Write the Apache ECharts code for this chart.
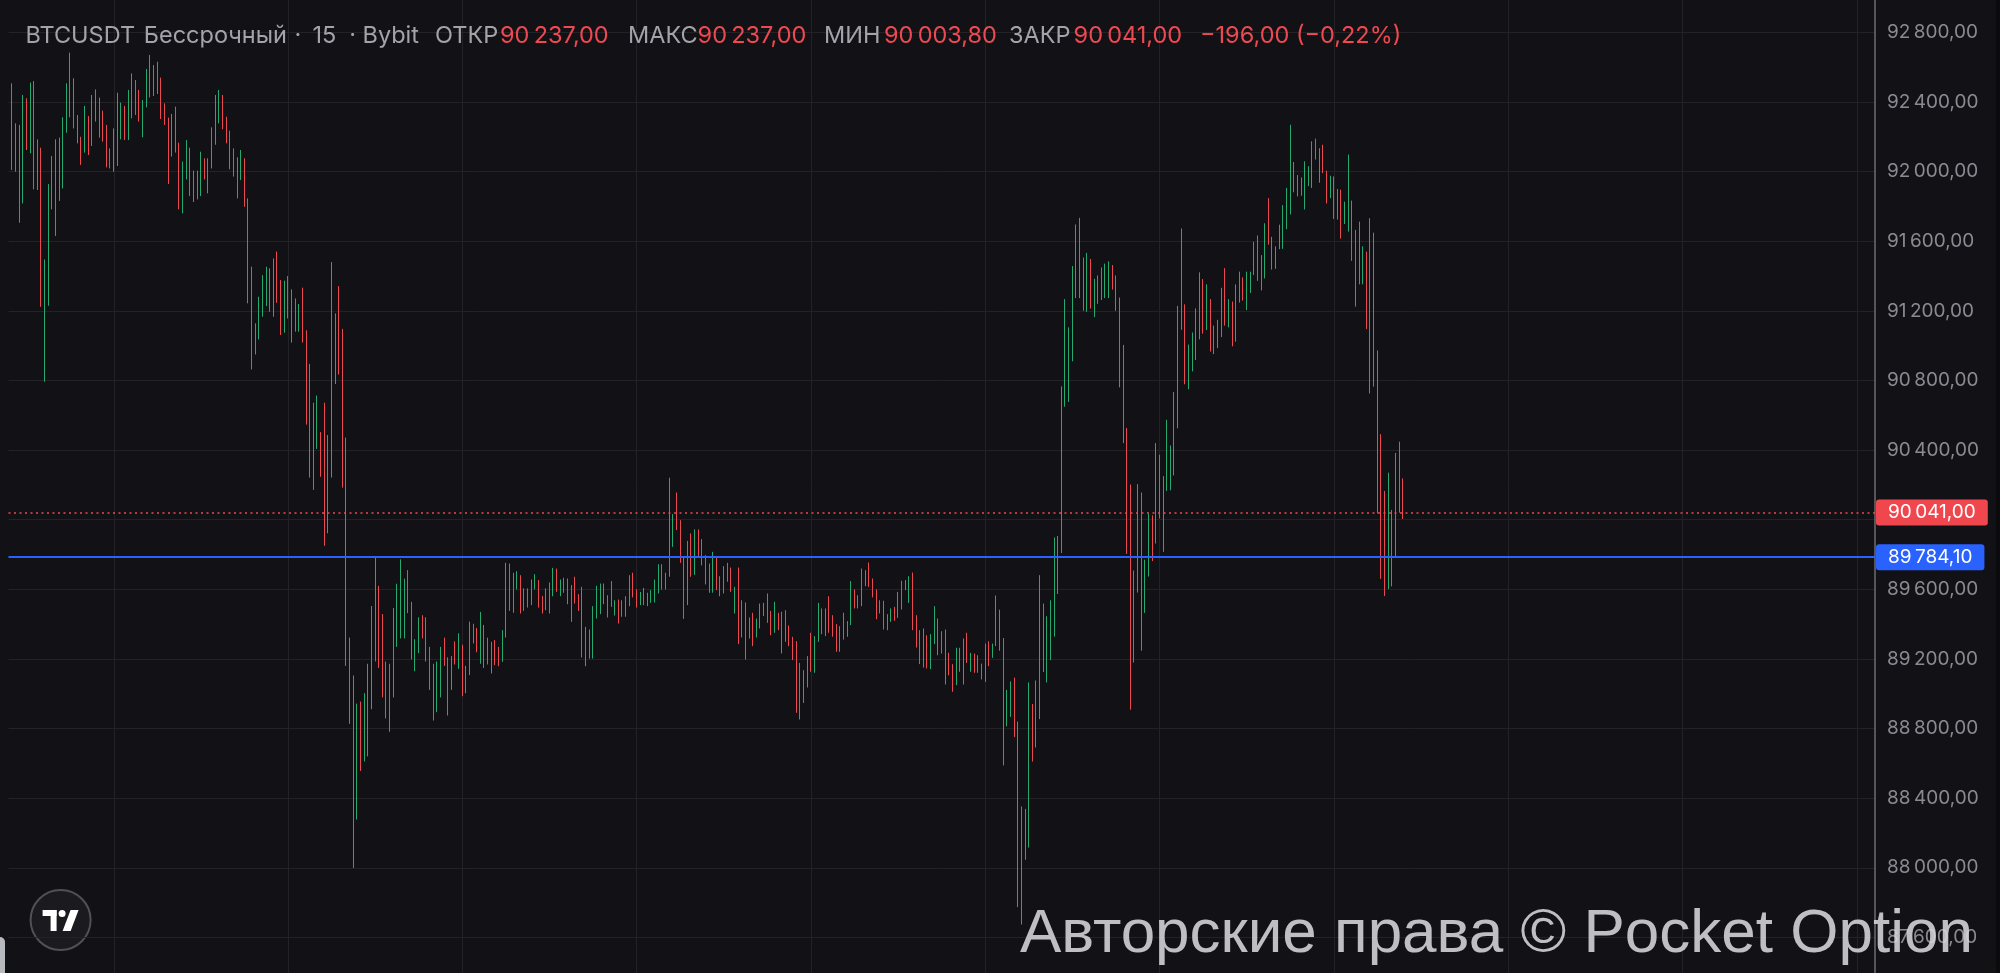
<!DOCTYPE html>
<html><head><meta charset="utf-8">
<script src="https://cdn.jsdelivr.net/npm/echarts@6/dist/echarts.min.js"></script>
<style>html,body{margin:0;padding:0;background:#121216;}#c{width:2000px;height:973px;}</style>
</head><body><div id="c"></div>
<script>
// 15-minute bars, [open, close, low, high]
const ohlc = [
[92507,92009,92009,92507],[92277,91999,91999,92277],[92268,91706,91706,92268],[91817,92440,91817,92440],[92421,92124,92124,92421],
[92105,92511,92105,92511],[92520,91898,91898,92520],[91894,92185,91894,92185],[92137,91223,91223,92137],[90792,91495,90792,91495],
[91229,91928,91229,91928],[91783,92089,91783,92089],[91630,92185,91630,92185],[92195,91831,91831,92195],[91903,92312,91903,92312],
[92223,92507,92223,92507],[92683,92312,92312,92683],[92536,92248,92248,92536],[92325,92162,92162,92325],[92200,92038,92038,92200],
[92109,92377,92109,92377],[92319,92095,92095,92319],[92147,92440,92147,92440],[92472,92287,92287,92472],[92425,92195,92195,92425],
[92350,92172,92172,92350],[92268,92024,92024,92268],[92133,92018,92018,92133],[91999,92248,91999,92248],[92032,92453,92032,92453],
[92185,92396,92185,92396],[92377,92181,92181,92377],[92181,92469,92181,92469],[92306,92564,92306,92564],[92526,92325,92325,92526],
[92469,92287,92287,92469],[92197,92411,92197,92411],[92369,92589,92369,92589],[92426,92670,92426,92670],[92612,92434,92434,92612],
[92446,92631,92446,92631],[92540,92302,92302,92540],[92392,92268,92268,92392],[92310,91928,91928,92310],[92086,92331,92086,92331],
[92373,92109,92109,92373],[92166,91783,91783,92166],[91760,92057,91760,92057],[91955,92181,91955,92181],[92137,91859,91859,92137],
[91825,92005,91825,92005],[92005,91840,91840,92005],[91859,92114,91859,92114],[92076,91955,91955,92076],[91875,92076,91875,92076],
[92018,92254,92018,92254],[92154,92440,92154,92440],[92277,92469,92277,92469],[92440,92243,92243,92440],[92315,92162,92162,92315],
[92235,92013,92013,92235],[92133,91971,91971,92133],[92082,91846,91846,92082],[91951,92124,91951,92124],[92076,91798,91798,92076],
[91846,91243,91243,91846],[91453,90863,90863,91453],[90949,91128,90949,91128],[91036,91281,91036,91281],[91166,91405,91166,91405],
[91227,91453,91227,91453],[91444,91195,91195,91444],[91166,91501,91166,91501],[91540,91246,91246,91540],[91377,91061,91061,91377],
[91074,91373,91074,91373],[91400,91156,91156,91400],[91323,91017,91017,91323],[91271,91080,91080,91271],[91080,91239,91080,91239],
[91333,91017,91017,91333],[91088,90546,90546,91088],[90895,90242,90242,90895],[90171,90672,90171,90672],[90406,90713,90406,90713],
[90503,90246,90246,90503],[90672,89850,89850,90672],[89922,90486,89922,90486],[90242,91480,90242,91480],[90779,91185,90779,91185],
[91342,90834,90834,91342],[91096,90184,90184,91096],[90471,89160,89160,90471],[89322,88827,88827,89322],[89105,87999,87999,89105],
[88277,88943,88277,88943],[88955,88556,88556,88955],[88611,89003,88611,89003],[88640,89172,88640,89172],[88911,89504,88911,89504],
[89185,89789,89185,89789],[89620,89148,89148,89620],[89458,88979,88979,89458],[89185,88858,88858,89185],[88781,89172,88781,89172],
[88979,89492,88979,89492],[89269,89632,89269,89632],[89318,89772,89318,89772],[89318,89661,89318,89661],[89710,89463,89463,89710],
[89528,89197,89197,89528],[89129,89313,89129,89313],[89233,89439,89233,89439],[89451,89318,89318,89451],[89439,89185,89185,89439],
[89269,89022,89022,89269],[89172,88846,88846,89172],[88894,89185,88894,89185],[88979,89269,88979,89269],[89322,89160,89160,89322],
[89209,88875,88875,89209],[89022,89216,89022,89216],[89301,89168,89168,89301],[89143,89347,89143,89347],[89281,88986,88986,89281],
[89003,89160,89003,89160],[89107,89414,89107,89414],[89402,89289,89289,89402],[89378,89238,89238,89378],[89172,89470,89172,89470],
[89395,89148,89148,89395],[89168,89322,89168,89322],[89298,89116,89116,89298],[89308,89164,89164,89308],[89269,89158,89158,89269],
[89183,89365,89183,89365],[89323,89752,89323,89752],[89748,89476,89476,89748],[89465,89695,89465,89695],[89599,89704,89599,89704],
[89681,89461,89461,89681],[89476,89605,89476,89605],[89605,89495,89495,89605],[89509,89656,89509,89656],[89599,89687,89599,89687],
[89653,89495,89495,89653],[89562,89461,89461,89562],[89480,89605,89480,89605],[89461,89639,89461,89639],[89560,89723,89560,89723],
[89719,89585,89585,89719],[89560,89656,89560,89656],[89666,89580,89580,89666],[89662,89514,89514,89662],[89413,89624,89413,89624],
[89672,89518,89518,89672],[89572,89476,89476,89572],[89614,89208,89208,89614],[89158,89384,89158,89384],[89369,89202,89202,89369],
[89202,89503,89202,89503],[89432,89620,89432,89620],[89457,89633,89457,89633],[89633,89514,89514,89633],[89438,89566,89438,89566],
[89647,89499,89499,89647],[89449,89537,89449,89537],[89541,89403,89403,89541],[89537,89442,89442,89537],[89442,89560,89442,89560],
[89503,89681,89503,89681],[89695,89553,89553,89695],[89599,89495,89495,89599],[89509,89585,89509,89585],[89608,89509,89509,89608],
[89580,89503,89503,89580],[89522,89595,89522,89595],[89524,89656,89524,89656],[89576,89744,89576,89744],[89744,89599,89599,89744],
[89599,89695,89599,89695],[89672,90241,89672,90241],[89844,90032,89844,90032],[90156,89940,89940,90156],[89997,89752,89752,89997],
[89787,89430,89430,89787],[89509,89878,89509,89878],[89921,89672,89672,89921],[89683,89944,89683,89944],[89944,89783,89783,89944],
[89888,89737,89737,89888],[89796,89628,89628,89796],[89748,89580,89580,89748],[89580,89815,89580,89815],[89790,89595,89595,89790],
[89560,89675,89560,89675],[89576,89733,89576,89733],[89752,89643,89643,89752],[89725,89585,89585,89725],[89461,89614,89461,89614],
[89725,89285,89285,89725],[89323,89537,89323,89537],[89524,89196,89196,89524],[89438,89317,89317,89438],[89465,89273,89273,89465],
[89323,89432,89323,89432],[89375,89518,89375,89518],[89446,89522,89446,89522],[89576,89407,89407,89576],[89476,89336,89336,89476],
[89350,89528,89350,89528],[89465,89365,89365,89465],[89231,89471,89231,89471],[89480,89298,89298,89480],[89392,89273,89273,89392],
[89327,89193,89193,89327],[89302,88890,88890,89302],[89177,88852,88852,89177],[88947,89135,88947,89135],[89036,89216,89036,89216],
[89350,89126,89126,89350],[89120,89331,89120,89331],[89298,89522,89298,89522],[89490,89342,89342,89490],[89331,89490,89331,89490],
[89560,89350,89350,89560],[89451,89327,89327,89451],[89400,89241,89241,89400],[89241,89388,89241,89388],[89311,89465,89311,89465],
[89327,89417,89327,89417],[89394,89647,89394,89647],[89599,89490,89490,89599],[89566,89490,89490,89566],[89503,89719,89503,89719],
[89618,89710,89618,89710],[89754,89614,89614,89754],[89662,89553,89553,89662],[89599,89428,89428,89599],[89537,89461,89461,89537],
[89534,89369,89369,89534],[89457,89365,89365,89457],[89413,89490,89413,89490],[89499,89419,89419,89499],[89436,89585,89436,89585],
[89484,89649,89484,89649],[89595,89653,89595,89653],[89522,89675,89522,89675],[89696,89365,89365,89696],[89451,89265,89265,89451],
[89365,89170,89170,89365],[89150,89375,89150,89375],[89336,89145,89145,89336],[89141,89342,89141,89342],[89285,89503,89285,89503],
[89432,89221,89221,89432],[89231,89359,89231,89359],[89369,89053,89053,89369],[89235,89106,89106,89235],[89170,89011,89011,89170],
[89049,89264,89049,89264],[89264,89126,89126,89264],[89053,89317,89053,89317],[89350,89177,89177,89350],[89126,89235,89126,89235],
[89231,89120,89120,89231],[89120,89221,89120,89221],[89173,89082,89082,89173],[89068,89288,89068,89288],[89301,89158,89158,89301],
[89206,89288,89206,89288],[89274,89564,89274,89564],[89483,89247,89247,89483],[89320,88588,88588,89320],[88813,89022,88813,89022],
[88867,89071,88867,89071],[89092,88751,88751,89092],[88840,87774,87774,88840],[87674,88352,87674,88352],[88338,88046,88046,88338],
[88116,89065,88116,89065],[88941,88610,88610,88941],[88691,89076,88691,89076],[88854,89681,88854,89681],[89518,89125,89125,89518],
[89065,89445,89065,89445],[89193,89537,89193,89537],[89328,89898,89328,89898],[89906,89573,89573,89906],[89808,90766,89808,90766],
[90649,91267,90649,91267],[90676,91105,90676,91105],[90910,91457,90910,91457],[91273,91696,91273,91696],[91734,91273,91273,91734],
[91506,91200,91200,91506],[91194,91533,91194,91533],[91498,91213,91213,91498],[91164,91384,91164,91384],[91240,91403,91240,91403],
[91449,91262,91262,91449],[91273,91471,91273,91471],[91273,91484,91273,91484],[91463,91322,91322,91463],[91403,91200,91200,91403],
[91276,90760,90760,91276],[91004,90440,90440,91004],[90527,89803,89803,90527],[90202,88908,88908,90202],[89179,89708,89179,89708],
[89581,90204,89581,90204],[90156,89247,89247,90156],[89464,89770,89464,89770],[89673,90034,89673,90034],[90025,89762,89762,90025],
[89863,90440,89863,90440],[90373,90007,90007,90373],[89815,90250,89815,90250],[90165,90574,90165,90574],[90169,90426,90169,90426],
[90254,90733,90254,90733],[90525,91228,90525,91228],[91091,91673,91091,91673],[91237,90778,90778,91237],[90749,91006,90749,91006],
[90852,91075,90852,91075],[90917,91214,90917,91214],[91036,91421,91036,91421],[91382,91069,91069,91382],[91089,91352,91089,91352],
[91267,90966,90966,91267],[90951,91115,90951,91115],[90986,91148,90986,91148],[91049,91332,91049,91332],[91445,91115,91115,91445],
[91105,91267,91105,91267],[91253,90996,90996,91253],[91022,91352,91022,91352],[91247,91425,91247,91425],[91392,91259,91259,91392],
[91204,91425,91204,91425],[91303,91425,91303,91425],[91406,91596,91406,91596],[91633,91372,91372,91633],[91520,91317,91317,91520],
[91386,91703,91386,91703],[91847,91580,91580,91847],[91625,91437,91437,91625],[91441,91570,91441,91570],[91554,91695,91554,91695],
[91556,91807,91556,91807],[91669,91906,91669,91906],[91754,92269,91754,92269],[92055,91881,91881,92055],[91857,91980,91857,91980],
[91966,91861,91861,91966],[91782,92059,91782,92059],[91916,92031,91916,92031],[91906,92174,91906,92174],[92189,92069,92069,92189],
[91936,92134,91936,92134],[92154,91991,91991,92154],[92005,91817,91817,92005],[91847,91976,91847,91976],[91972,91728,91728,91972],
[91724,91900,91724,91900],[91896,91615,91615,91896],[91699,91827,91699,91827],[91655,92098,91655,92098],[91833,91487,91487,91833],
[91224,91665,91224,91665],[91712,91352,91352,91712],[91352,91570,91352,91570],[91540,91095,91095,91540],[90725,91732,90725,91732],
[91649,90764,90764,91649],[90972,90036,90036,90972],[90491,89660,89660,90491],[90165,89561,89561,90165],[89601,90270,89601,90270],
[90056,89617,89617,90056],[89789,90383,89789,90383],[90448,90040,90040,90448],[90237,90041,90003.8,90237]
];
const levelLine = 89784.1;          // user-drawn horizontal line
const yMin = 87200, yMax = 93200, yStep = 400;
const slotCount = 515;              // time slots on the x axis (incl. empty right margin)
const gridEvery = 48;               // one vertical grid line per 12 h (48 x 15m)
const gridFirst = 29;

const UP = '#26a96f', DOWN = '#ec4850';
const RED_TXT = '#ee4850', GRAY_TXT = '#a3a3a9', AXIS_TXT = '#8a8a90', GRID = '#232327', BG = '#121216';

const fmt = v => {
  const neg = v < 0; v = Math.abs(v);
  const [ip, dp] = v.toFixed(2).split('.');
  return (neg ? '\u2212' : '') + ip.replace(/\B(?=(\d{3})+(?!\d))/g, '\u2009') + ',' + dp;
};

const last = ohlc[ohlc.length - 1];
const lastOpen = last[0], lastClose = last[1], lastLow = last[2], lastHigh = last[3];
const chg = lastClose - lastOpen;
const chgPct = (chg / lastOpen * 100);

const cats = [];
for (let i = 0; i < slotCount; i++) cats.push(String(i));
const seriesData = ['-'].concat(ohlc);

const chart = echarts.init(document.getElementById('c'), null, {renderer: 'canvas'});
const FONT = 'Inter, "Noto Sans", Roboto, sans-serif';

const hdr = [
  {x: 25.4, t: 'BTCUSDT', c: GRAY_TXT},
  {x: 143.8, t: 'Бессрочный', c: GRAY_TXT},
  {x: 298, t: '·', c: GRAY_TXT, a: 'center'},
  {x: 312.5, t: '15', c: GRAY_TXT},
  {x: 352.7, t: '·', c: GRAY_TXT, a: 'center'},
  {x: 362.5, t: 'Bybit', c: GRAY_TXT},
  {x: 435, t: 'ОТКР', c: GRAY_TXT}, {x: 500, t: fmt(lastOpen), c: RED_TXT},
  {x: 628, t: 'МАКС', c: GRAY_TXT}, {x: 697.6, t: fmt(lastHigh), c: RED_TXT},
  {x: 824, t: 'МИН', c: GRAY_TXT}, {x: 884, t: fmt(lastLow), c: RED_TXT},
  {x: 1009, t: 'ЗАКР', c: GRAY_TXT}, {x: 1073.6, t: fmt(lastClose), c: RED_TXT},
  {x: 1200, t: fmt(chg) + ' (' + (chgPct < 0 ? '\u2212' : '') + Math.abs(chgPct).toFixed(2).replace('.', ',') + '%)', c: RED_TXT}
];

const graphics = hdr.map(h => ({
  type: 'text', x: h.x, y: 36, z: 10, silent: true,
  style: {text: h.t, fill: h.c, font: '23.5px ' + FONT, verticalAlign: 'middle', align: h.a || 'left'}
}));
graphics.push({
  type: 'text', x: 1020, y: 935, z: 20, silent: true,
  style: {text: 'Авторские права © Pocket Option', fill: 'rgba(215,215,220,0.88)',
          font: '62px "Liberation Sans", Arial, sans-serif', verticalAlign: 'middle', align: 'left'}
});
graphics.push({
  type: 'group', x: 60.6, y: 920, z: 15, silent: true,
  children: [
    {type: 'circle', shape: {cx: 0, cy: 0, r: 30}, style: {fill: '#1b1b1f', stroke: '#505056', lineWidth: 2}},
    {type: 'rect', shape: {x: -18, y: -10, width: 14, height: 6}, style: {fill: '#ffffff'}},
    {type: 'rect', shape: {x: -10, y: -10, width: 6, height: 21}, style: {fill: '#ffffff'}},
    {type: 'circle', shape: {cx: 1.5, cy: -6.5, r: 3.5}, style: {fill: '#ffffff'}},
    {type: 'polygon', shape: {points: [[2, 11], [10, -10], [18, -10], [10, 11]]}, style: {fill: '#ffffff'}}
  ]
});
graphics.push({type: 'rect', z: 15, silent: true, shape: {x: -5, y: 937, width: 10, height: 60, r: 5}, style: {fill: '#b8b8bf'}});
graphics.push({type: 'rect', z: 15, silent: true, shape: {x: 1996, y: 0, width: 4, height: 973}, style: {fill: '#0b0b0d'}});

const boxLabel = (bg) => ({
  show: true, position: 'end', distance: 1,
  color: '#ffffff', fontFamily: FONT, fontSize: 19, lineHeight: 20,
  backgroundColor: bg, borderRadius: 3, padding: [3, 12, 3, 12],
  formatter: p => fmt(p.value)
});

chart.setOption({
  animation: false,
  backgroundColor: BG,
  grid: {left: 8.5, right: 125, top: -37.3, height: 1044.3, outerBoundsMode: 'none', containLabel: false},
  xAxis: {
    type: 'category', data: cats, boundaryGap: false,
    axisLine: {show: false}, axisTick: {show: false}, axisLabel: {show: false},
    splitLine: {show: true, interval: (i) => i >= gridFirst && (i - gridFirst) % gridEvery === 0,
                lineStyle: {color: GRID, width: 1}}
  },
  yAxis: {
    type: 'value', position: 'right', min: yMin, max: yMax, interval: yStep, scale: true,
    axisLine: {show: true, lineStyle: {color: '#6c6c72', width: 1.5}},
    axisTick: {show: false},
    splitLine: {show: true, lineStyle: {color: GRID, width: 1}},
    axisLabel: {
      color: AXIS_TXT, fontFamily: FONT, fontSize: 19, margin: 12, align: 'left',
      formatter: v => (Math.abs(v - lastClose) < 110 || Math.abs(v - levelLine) < 110) ? '' : fmt(v)
    }
  },
  series: [{
    type: 'candlestick', data: seriesData, barWidth: 1,
    itemStyle: {color: UP, color0: DOWN, borderColor: UP, borderColor0: DOWN, borderWidth: 1},
    markLine: {
      silent: true, symbol: ['none', 'none'], animation: false,
      data: [
        {yAxis: lastClose, lineStyle: {color: DOWN, type: [2, 3.5], width: 1.5}, label: boxLabel('#f0474f')},
        {yAxis: levelLine, lineStyle: {color: '#2962ff', type: 'solid', width: 1.8}, label: boxLabel('#2962ff')}
      ]
    }
  }],
  graphic: graphics
});
</script>
</body></html>
